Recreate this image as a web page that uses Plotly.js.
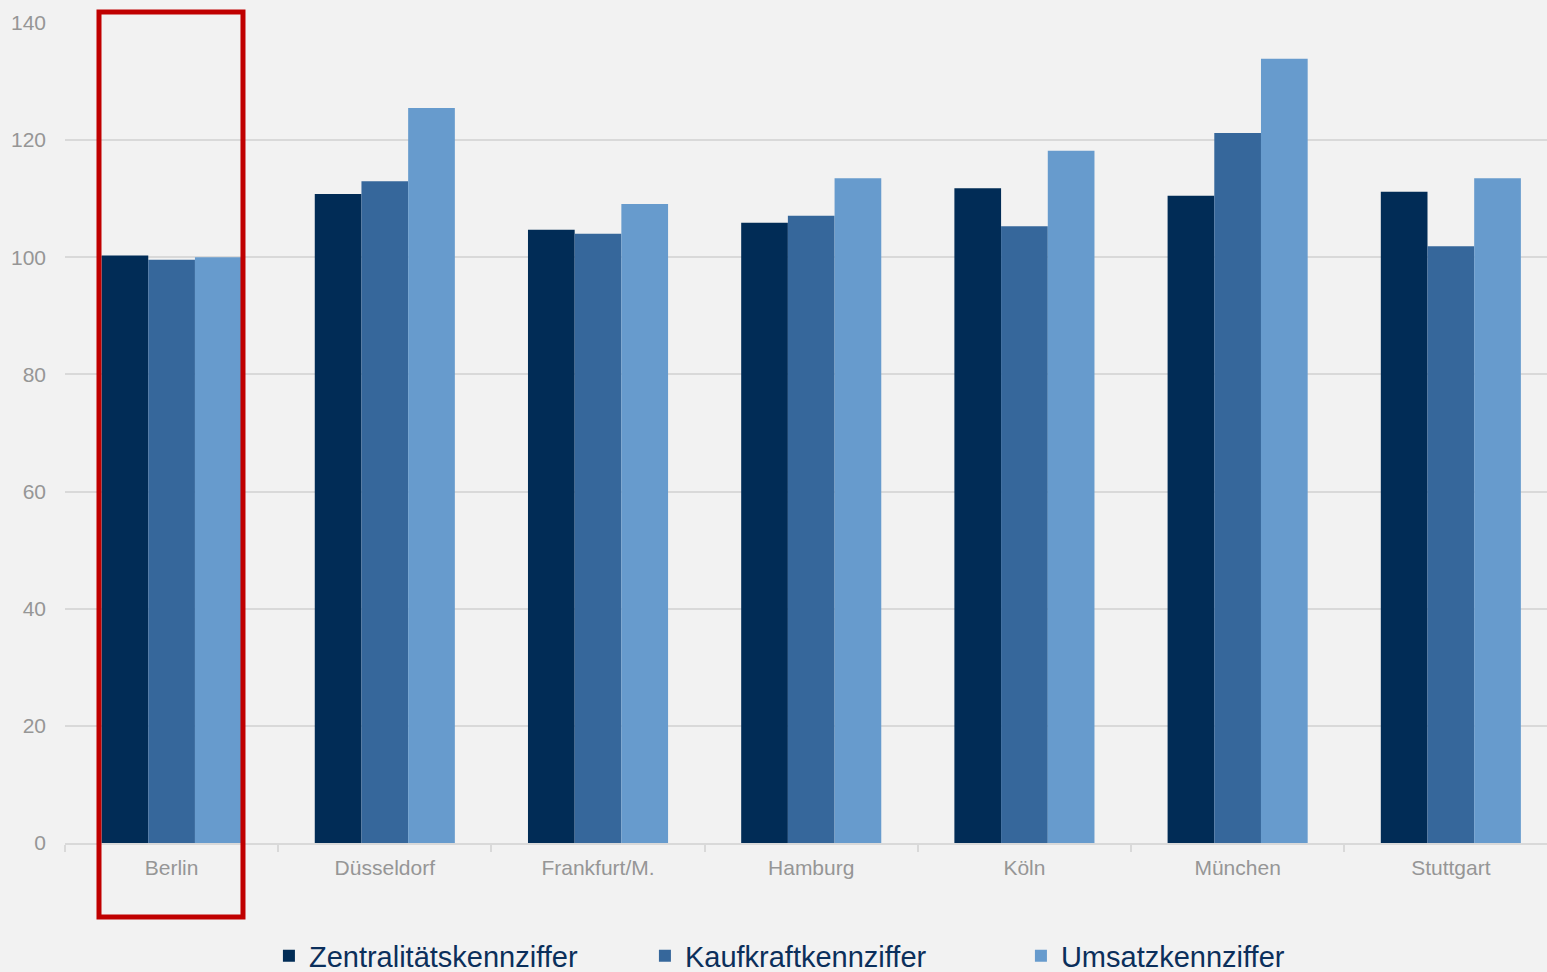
<!DOCTYPE html>
<html>
<head>
<meta charset="utf-8">
<script src="https://cdn.plot.ly/plotly-3.0.1.min.js"></script>
<style>html,body{margin:0;padding:0;background:#f2f2f2;}#chart{width:1547px;height:972px;}</style>
</head>
<body>
<div id="chart"></div>
<script>
const categories = ["Berlin", "Düsseldorf", "Frankfurt/M.", "Hamburg", "Köln", "München", "Stuttgart"];
const zentralitaet = [100.3, 110.8, 104.7, 105.9, 111.8, 110.5, 111.2];
const kaufkraft = [99.6, 113.0, 104.0, 107.1, 105.3, 121.2, 101.9];
const umsatz = [100.0, 125.5, 109.1, 113.5, 118.2, 133.9, 113.5];
const seriesNames = ["Zentralitätskennziffer", "Kaufkraftkennziffer", "Umsatzkennziffer"];
const yTicks = [0, 20, 40, 60, 80, 100, 120, 140];

const colors = ["#012c56", "#36679b", "#679bcd"];
const data = [zentralitaet, kaufkraft, umsatz].map((vals, i) => ({
  type: "bar",
  x: categories,
  y: vals,
  name: seriesNames[i],
  marker: {color: colors[i], line: {width: 0}},
  hoverinfo: "x+y+name"
}));

const layout = {
  width: 1547,
  height: 972,
  paper_bgcolor: "#f2f2f2",
  plot_bgcolor: "#f2f2f2",
  margin: {l: 65, r: 0, t: 23, b: 129, autoexpand: false},
  barmode: "group",
  bargap: 0.343,
  bargroupgap: 0,
  font: {family: "Liberation Sans, Arial, sans-serif"},
  xaxis: {
    type: "category",
    range: [-0.5, 6.451],
    tickson: "boundaries",
    ticks: "outside",
    ticklen: 7,
    tickwidth: 2,
    tickcolor: "#d9d9d9",
    showline: true,
    linecolor: "#d9d9d9",
    linewidth: 2,
    showgrid: false,
    tickfont: {size: 21, color: "#969696"},
    ticklabelstandoff: 5,
    automargin: false,
    fixedrange: true
  },
  yaxis: {
    range: [0, 140],
    tickvals: yTicks,
    ticktext: yTicks.map(String),
    showgrid: true,
    gridcolor: "#d9d9d9",
    gridwidth: 1.5,
    zeroline: false,
    showline: false,
    ticks: "",
    tickfont: {size: 21, color: "#969696"},
    ticklabelstandoff: 18,
    automargin: false,
    fixedrange: true
  },
  legend: {
    orientation: "h",
    x: 0.1376,
    xanchor: "left",
    y: -0.1378,
    yanchor: "middle",
    font: {size: 29, color: "#0b2f5b"},
    bgcolor: "rgba(0,0,0,0)",
    traceorder: "normal",
    entrywidth: 331,
    entrywidthmode: "pixels"
  },
  shapes: [{
    type: "rect",
    xref: "paper",
    yref: "paper",
    x0: 0.02294,
    x1: 0.1201,
    y0: -0.0902,
    y1: 1.0134,
    line: {color: "#c00000", width: 5},
    fillcolor: "rgba(0,0,0,0)",
    layer: "above"
  }],
  showlegend: true
};

Plotly.newPlot("chart", data, layout, {displayModeBar: false});
</script>
</body>
</html>
